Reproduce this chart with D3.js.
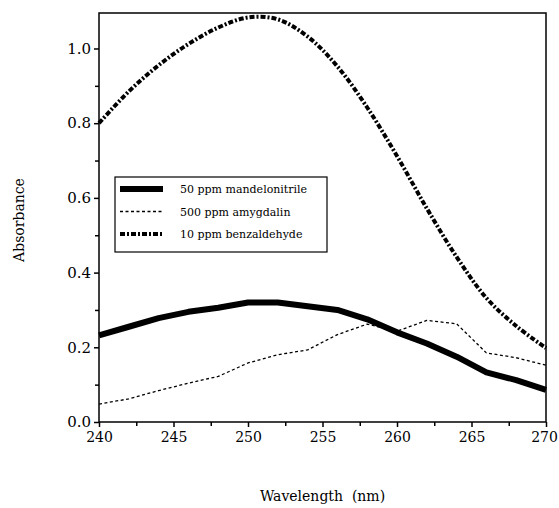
<!DOCTYPE html>
<html>
<head>
<meta charset="utf-8">
<script src="https://cdn.jsdelivr.net/npm/d3@7"></script>
<style>
  body { margin: 0; background: #fff; }
  svg { display: block; font-family: "DejaVu Serif", serif; }
</style>
</head>
<body>
<svg class="spectra" width="559" height="508"></svg>
<script>
// wavelengths (nm), readings every 2 nm
const wavelengths = [240, 242, 244, 246, 248, 250, 252, 254, 256, 258, 260, 262, 264, 266, 268, 270]

const mandelonitrile = [0.232, 0.255, 0.278, 0.295, 0.306, 0.320, 0.320, 0.310, 0.300, 0.275, 0.240, 0.210, 0.175, 0.133, 0.112, 0.086]
const amygdalin = [0.048, 0.062, 0.084, 0.104, 0.122, 0.158, 0.180, 0.193, 0.234, 0.262, 0.243, 0.272, 0.263, 0.185, 0.172, 0.152]
const benzaldehyde = [0.800, 0.885, 0.955, 1.012, 1.056, 1.083, 1.078, 1.032, 0.952, 0.842, 0.712, 0.572, 0.442, 0.332, 0.257, 0.198]

const seriesNames = ["50 ppm mandelonitrile", "500 ppm amygdalin", "10 ppm benzaldehyde"]

const xTicks = [240, 245, 250, 255, 260, 265, 270]
const yTicks = [0.0, 0.2, 0.4, 0.6, 0.8, 1.0]

const margin = {top: 13, right: 13, bottom: 86, left: 99}
const width = 559 - margin.left - margin.right
const height = 508 - margin.top - margin.bottom

const svg = d3.select("svg.spectra")
const g = svg.append("g").attr("transform", `translate(${margin.left},${margin.top})`)

const x = d3.scaleLinear().domain([240, 270]).range([0, width])
const y = d3.scaleLinear().domain([0, 1.095]).range([height, 0])

// styles for each series (benzaldehyde trace is a smooth curve)
const styles = [
    {width: 6, dash: null, curve: d3.curveLinear},
    {width: 1.3, dash: "3,2.5", curve: d3.curveLinear},
    {width: 4, dash: "5,2,2,2", curve: d3.curveCatmullRom}
]
const allSeries = [mandelonitrile, amygdalin, benzaldehyde]

// minor ticks first
const xMinor = d3.range(242.5, 270, 5)
const yMinor = d3.range(0.1, 1.05, 0.2)

g.append("g")
    .attr("transform", `translate(0,${height})`)
    .call(d3.axisBottom(x).tickValues(xMinor).tickSize(4).tickFormat(""))
g.append("g")
    .call(d3.axisLeft(y).tickValues(yMinor).tickSize(4).tickFormat(""))

const xAxis = g.append("g")
    .attr("transform", `translate(0,${height})`)
    .call(d3.axisBottom(x).tickValues(xTicks).tickSize(5).tickPadding(5).tickFormat(d3.format("d")))

const yAxis = g.append("g")
    .call(d3.axisLeft(y).tickValues(yTicks).tickSize(5).tickPadding(3).tickFormat(d3.format(".1f")))

g.selectAll(".domain").remove()
g.selectAll(".tick line").attr("stroke", "#000").attr("stroke-width", 1.5)
xAxis.selectAll("text").attr("font-size", 14).attr("font-family", "DejaVu Serif").attr("fill", "#000")
yAxis.selectAll("text").attr("font-size", 15).attr("font-family", "DejaVu Serif").attr("fill", "#000")
// last label sits at the page edge; pull it in a little so it is not clipped
xAxis.selectAll(".tick text").filter(d => d === 270).attr("dx", -2)

// frame
g.append("rect")
    .attr("width", width)
    .attr("height", height)
    .attr("fill", "none")
    .attr("stroke", "#000")
    .attr("stroke-width", 1.5)

allSeries.forEach((s, i) => {
    const line = d3.line()
        .x((d, j) => x(wavelengths[j]))
        .y(d => y(d))
        .curve(styles[i].curve)
    g.append("path")
        .datum(s)
        .attr("d", line)
        .attr("fill", "none")
        .attr("stroke", "#000")
        .attr("stroke-width", styles[i].width)
        .attr("stroke-dasharray", styles[i].dash)
        .attr("stroke-linejoin", "round")
})

// legend
const legend = svg.append("g").attr("transform", "translate(115,177)")
legend.append("rect")
    .attr("width", 212)
    .attr("height", 75)
    .attr("fill", "#fff")
    .attr("stroke", "#000")
    .attr("stroke-width", 1.2)

seriesNames.forEach((name, i) => {
    const ly = 12 + i * 22.5
    legend.append("line")
        .attr("x1", 5).attr("x2", 48)
        .attr("y1", ly).attr("y2", ly)
        .attr("stroke", "#000")
        .attr("stroke-width", styles[i].width)
        .attr("stroke-dasharray", styles[i].dash)
    legend.append("text")
        .attr("x", 65)
        .attr("y", ly + 4)
        .attr("font-size", 11)
        .text(name)
})

// axis titles
svg.append("text")
    .attr("x", margin.left + width / 2)
    .attr("y", 501)
    .attr("text-anchor", "middle")
    .attr("font-size", 14)
    .style("white-space", "pre")
    .text("Wavelength  (nm)")

svg.append("text")
    .attr("transform", "translate(24,220) rotate(-90)")
    .attr("text-anchor", "middle")
    .attr("font-size", 14)
    .text("Absorbance")
</script>
</body>
</html>
